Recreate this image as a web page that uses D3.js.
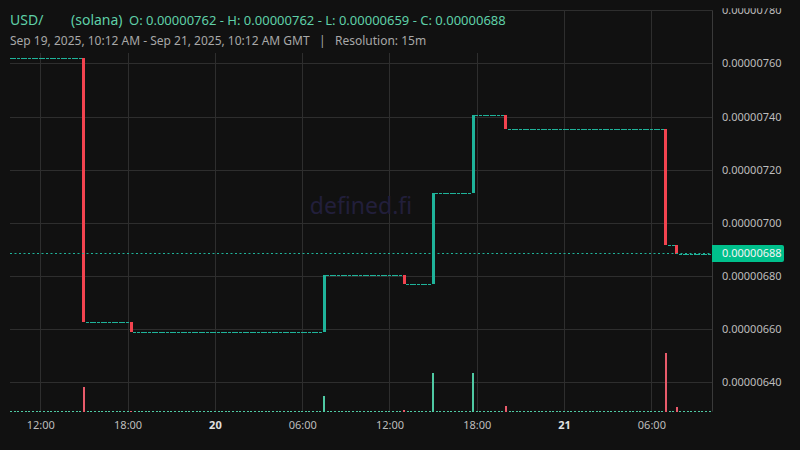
<!DOCTYPE html>
<html>
<head>
<meta charset="utf-8">
<script src="https://cdn.jsdelivr.net/npm/d3@7/dist/d3.min.js"></script>
<style>
  html, body { margin: 0; padding: 0; background: #111111; }
  svg { display: block; }
</style>
</head>
<body>
<svg id="chart" width="800" height="450"></svg>
<script>
// ---- DATA (prices in units of 1e-8) ----
const seriesStart = "2025-09-19T10:00:00Z";
const seriesEnd = "2025-09-21T10:00:00Z";
const resolutionMinutes = 15;
const openingPrice = 762;
const moveTimes = ["2025-09-19T15:00:00Z", "2025-09-19T18:15:00Z", "2025-09-20T07:30:00Z",
                   "2025-09-20T13:00:00Z", "2025-09-20T15:00:00Z", "2025-09-20T17:45:00Z",
                   "2025-09-20T20:00:00Z", "2025-09-21T07:00:00Z", "2025-09-21T07:45:00Z"];
const moveCloses = [662.6, 659.0, 680.3, 676.9, 711.1, 740.5, 735.4, 691.6, 688.4];
const moveVolumes = [25, 0, 16, 2, 39, 39, 6, 59, 5];
const priceTicks = [640, 660, 680, 700, 720, 740, 760, 780];
const timeTicks = ["2025-09-19T12:00:00Z", "2025-09-19T18:00:00Z", "2025-09-20T00:00:00Z",
                   "2025-09-20T06:00:00Z", "2025-09-20T12:00:00Z", "2025-09-20T18:00:00Z",
                   "2025-09-21T00:00:00Z", "2025-09-21T06:00:00Z"];
const timeTickLabels = ["12:00", "18:00", "20", "06:00", "12:00", "18:00", "21", "06:00"];
const boldTicks = ["20", "21"];
const symbolText = "USD/";
const chainText = "(solana)";
const rangeText = "Sep 19, 2025, 10:12 AM - Sep 21, 2025, 10:12 AM GMT   |   Resolution: 15m";
const watermark = "defined.fi";

// ---- build candles: each 15m bar keeps the previous close unless a move happened ----
const moveMap = new Map(moveTimes.map((t, i) => [+new Date(t), i]));
const candles = [];
{
  let last = openingPrice;
  const step = resolutionMinutes * 60000;
  for (let t = +new Date(seriesStart); t <= +new Date(seriesEnd); t += step) {
    if (moveMap.has(t)) {
      const i = moveMap.get(t);
      candles.push({ t: new Date(t), o: last, c: moveCloses[i], v: moveVolumes[i] });
      last = moveCloses[i];
    } else {
      candles.push({ t: new Date(t), o: last, c: last, v: 0 });
    }
  }
}
candles.forEach(d => { d.h = Math.max(d.o, d.c); d.l = Math.min(d.o, d.c); });

const fmt = v => (v * 1e-8).toFixed(8);
const UP = "#1fb39a", DOWN = "#f2434f";
const VUP = "#4fc9a3", VDOWN = "#e85b6b";

// ---- layout ----
const svg = d3.select("#chart");
const pLeft = 10, pRight = 712, pTop = 10.3, pBottom = 411.5;

const x = d3.scaleUtc()
  .domain([new Date("2025-09-19T09:55:00Z"), new Date("2025-09-21T10:10:00Z")])
  .range([pLeft, pRight]);
const y = d3.scaleLinear().domain([629.0, 780]).range([pBottom, pTop]);
const yVol = d3.scaleLinear().domain([0, 80]).range([pBottom, pBottom - 80]);
const bodyW = 3;
const volW = 2;

svg.append("rect").attr("width", 800).attr("height", 450).attr("fill", "#111111");

const defs = svg.append("defs");
defs.append("clipPath").attr("id", "axisClip").append("rect")
  .attr("x", 0).attr("y", 8.3).attr("width", 800).attr("height", 450);

// grid
const grid = svg.append("g").attr("stroke", "#2e2e2e").attr("stroke-width", 1);
grid.selectAll("line.h").data(priceTicks).join("line").attr("class", "h")
  .attr("x1", pLeft).attr("x2", pRight)
  .attr("y1", d => Math.round(y(d)) + 0.5).attr("y2", d => Math.round(y(d)) + 0.5);
grid.selectAll("line.v").data(timeTicks).join("line").attr("class", "v")
  .attr("y1", pTop).attr("y2", pBottom)
  .attr("x1", d => Math.round(x(new Date(d))) + 0.5).attr("x2", d => Math.round(x(new Date(d))) + 0.5);

// watermark
svg.append("text").attr("x", 361).attr("y", 214).attr("text-anchor", "middle")
  .attr("font-family", "Noto Sans").attr("font-size", 23).attr("fill", "#221f3b")
  .text(watermark);

// axis border
svg.append("line").attr("x1", pRight + 0.5).attr("x2", pRight + 0.5).attr("y1", pTop).attr("y2", pBottom)
  .attr("stroke", "#3a3a3a");

// volume bars
svg.append("g").selectAll("rect").data(candles).join("rect")
  .attr("x", d => x(d.t) - volW / 2)
  .attr("width", volW)
  .attr("y", d => Math.min(yVol(d.v), pBottom - 1))
  .attr("height", d => Math.max(pBottom - yVol(d.v), 1))
  .attr("fill", d => d.c < d.o ? VDOWN : VUP)
  .attr("shape-rendering", "crispEdges");

// candles
svg.append("g").selectAll("rect").data(candles).join("rect")
  .attr("x", d => x(d.t) - bodyW / 2)
  .attr("width", bodyW)
  .attr("y", d => y(d.h))
  .attr("height", d => Math.max(y(d.l) - y(d.h), 1))
  .attr("fill", d => d.c < d.o ? DOWN : UP)
  .attr("shape-rendering", "crispEdges");

// last price dotted line
const lastClose = candles[candles.length - 1].c;
const ly = Math.round(y(lastClose)) - 0.5;
svg.append("line").attr("x1", pLeft).attr("x2", pRight)
  .attr("y1", ly).attr("y2", ly)
  .attr("stroke", UP).attr("stroke-width", 1).attr("stroke-dasharray", "2,2.5");

// y axis
const yAxis = svg.append("g").attr("clip-path", "url(#axisClip)")
  .append("g").attr("transform", `translate(${pRight},0)`)
  .call(d3.axisRight(y).tickValues(priceTicks).tickSize(0).tickPadding(10).tickFormat(fmt));
yAxis.select(".domain").remove();
yAxis.selectAll("text").attr("font-family", "Noto Sans").attr("font-size", 11).attr("fill", "#bdbdbd");

// last price label
svg.append("path")
  .attr("d", `M${pRight},${ly - 8.5} H${pRight + 70} q2,0 2,2 V${ly + 6.5} q0,2 -2,2 H${pRight} Z`)
  .attr("fill", "#00c08c");
svg.append("text").attr("x", pRight + 10).attr("y", ly).attr("dy", "0.36em")
  .attr("font-family", "Noto Sans").attr("font-size", 11).attr("fill", "#f4f4f4")
  .text(fmt(lastClose));

// x axis
const xAxis = svg.append("g").attr("transform", `translate(0,${pBottom})`)
  .call(d3.axisBottom(x).tickValues(timeTicks.map(d => new Date(d))).tickSize(0).tickPadding(10)
    .tickFormat((d, i) => timeTickLabels[i]));
xAxis.select(".domain").remove();
xAxis.selectAll("text").attr("font-family", "Noto Sans").attr("font-size", 11)
  .attr("fill", (d, i) => boldTicks.includes(timeTickLabels[i]) ? "#e0e0e0" : "#bdbdbd")
  .attr("font-weight", (d, i) => boldTicks.includes(timeTickLabels[i]) ? "bold" : "normal");

// header
svg.append("rect").attr("x", 0).attr("y", 0).attr("width", 489).attr("height", 53).attr("fill", "#111111");
const hi = d3.max(candles, d => d.h), lo = d3.min(candles, d => d.l);
const head = svg.append("text").attr("y", 25).attr("font-family", "Noto Sans").attr("fill", "#5fd0a8");
head.append("tspan").attr("x", 10).attr("font-size", 14).text(symbolText);
head.append("tspan").attr("x", 71).attr("font-size", 14).text(chainText);
head.append("tspan").attr("x", 129).attr("font-size", 13)
  .text(`O: ${fmt(openingPrice)} - H: ${fmt(hi)} - L: ${fmt(lo)} - C: ${fmt(lastClose)}`);
svg.append("text").attr("x", 10).attr("y", 45).attr("font-family", "Noto Sans").attr("font-size", 12)
  .attr("fill", "#a8a8a8").attr("xml:space", "preserve").style("white-space", "pre")
  .text(rangeText);
</script>
</body>
</html>
